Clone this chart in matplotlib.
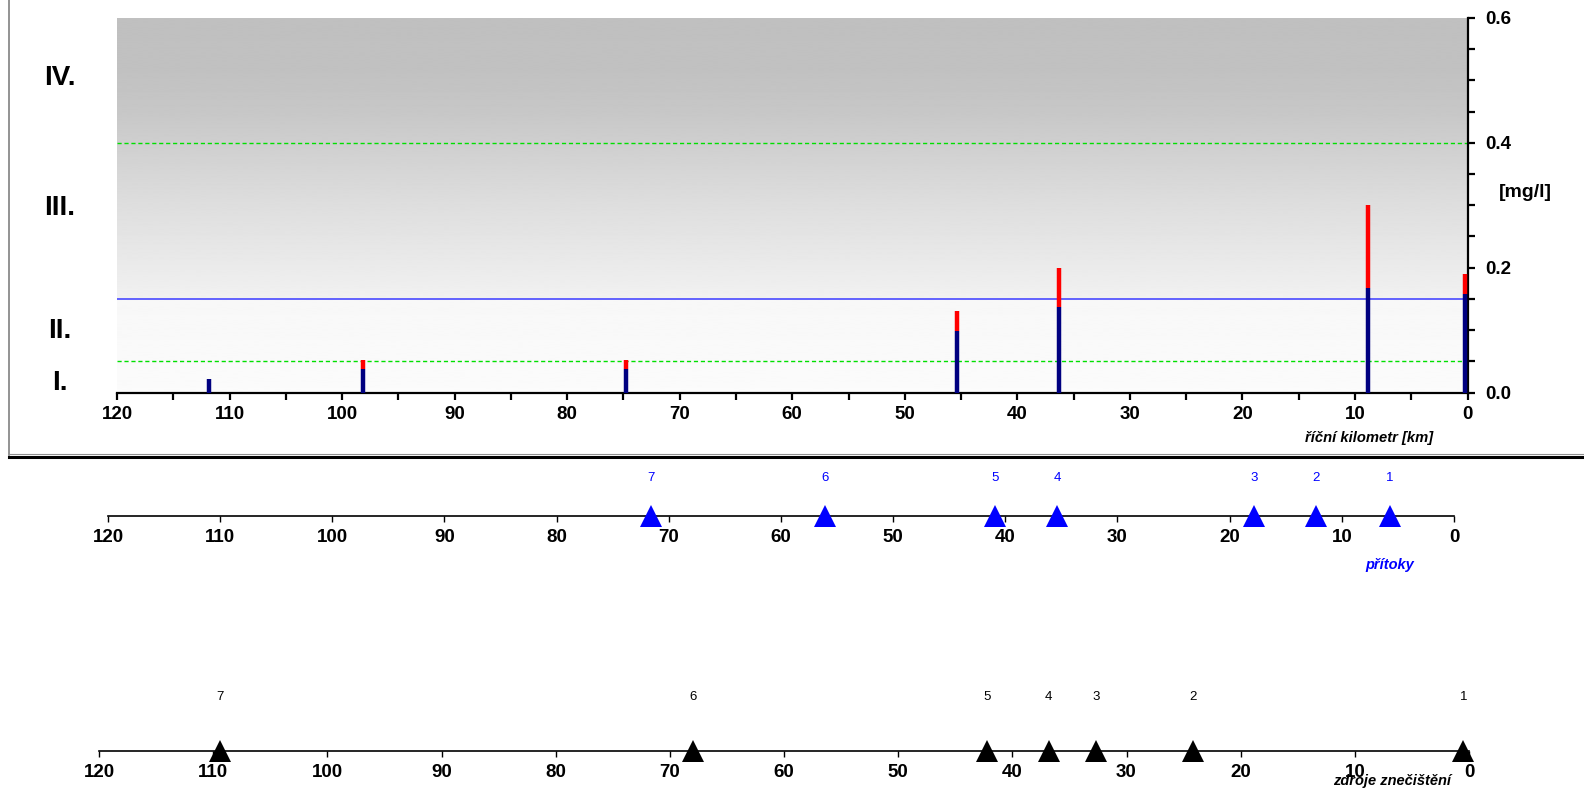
import numpy as np
import matplotlib
matplotlib.use('Agg')
import matplotlib.pyplot as plt
from matplotlib.lines import Line2D
from matplotlib import transforms

plt.rcParams['font.family'] = ['Liberation Sans', 'DejaVu Sans']
plt.rcParams['font.weight'] = 'bold'

# concentration along the river (river km, mg/l)
km = [111.8, 98.1, 74.8, 45.4, 36.3, 8.8, 0.2]
conc_low = [0.022, 0.038, 0.037, 0.098, 0.137, 0.168, 0.158]   # blue part
conc_high = [0.022, 0.052, 0.052, 0.130, 0.200, 0.300, 0.190]  # red top

limits_green = [0.05, 0.4]
limit_blue = 0.15
classes = ['I.', 'II.', 'III.', 'IV.']
class_y = [0.004, 0.087, 0.284, 0.493]

# tributaries (přítoky)
trib_id = [1, 2, 3, 4, 5, 6, 7]
trib_km = [5.7, 12.3, 17.8, 35.4, 40.9, 56.1, 71.6]

# pollution sources (zdroje znečištění)
src_id = [1, 2, 3, 4, 5, 6, 7]
src_km = [0.5, 24.2, 32.7, 36.8, 42.2, 68.0, 109.4]

W, H = 1584, 789
fig = plt.figure(figsize=(W / 100, H / 100), dpi=100)


def box(l, t, r, b):
    return [l / W, 1 - b / H, (r - l) / W, (b - t) / H]


# ---- top panel ----
ax = fig.add_axes(box(117, 18, 1467.5, 392.5))
yy = np.linspace(0, 0.6, 601)
shade = np.interp(yy, [0, 0.1499, 0.1501, 0.3, 0.45, 0.52, 0.6],
                  [0.985, 0.97, 0.945, 0.87, 0.78, 0.755, 0.753])
ax.imshow(shade[:, None], origin='lower', extent=(0, 120, 0, 0.6), aspect='auto',
          cmap='gray', vmin=0, vmax=1, zorder=0, interpolation='bilinear')

for v in limits_green:
    ax.axhline(v, color='#00e000', lw=1, ls=(0, (3, 2)), zorder=1)
ax.axhline(limit_blue, color='#4848ff', lw=1.2, zorder=1)

ax.vlines(km, 0, conc_low, color='#000080', lw=3.2, zorder=3)
ax.vlines(km, conc_low, conc_high, color='#ff0000', lw=3.2, zorder=3)

ax.set_xlim(120, 0)
ax.set_ylim(0, 0.6)
ax.spines[['left', 'top']].set_visible(False)
for s in ['bottom', 'right']:
    ax.spines[s].set_linewidth(1.6)
ax.yaxis.tick_right()
ax.set_xticks(np.arange(0, 121, 10))
ax.set_xticks(np.arange(0, 121, 5), minor=True)
ax.set_yticks([0, 0.2, 0.4, 0.6])
ax.set_yticks(np.arange(0, 0.61, 0.05), minor=True)
ax.yaxis.set_major_formatter(matplotlib.ticker.FormatStrFormatter('%.1f'))
ax.tick_params(axis='both', which='both', direction='out', length=5, width=1.6,
               labelsize=13.5)
ax.tick_params(axis='x', pad=5)
ax.tick_params(axis='y', pad=8)

trans = transforms.blended_transform_factory(ax.transAxes, ax.transData)
for s, y in zip(classes, class_y):
    ax.text(-0.0422, y, s, transform=trans, ha='center', va='baseline',
            fontsize=20, clip_on=False)
ax.text(1.0426, 0.32, '[mg/l]', transform=trans, ha='center', va='center',
        fontsize=14, clip_on=False)
fig.text(1433 / W, 1 - 438 / H, 'říční kilometr [km]', ha='right', va='center',
         style='italic', fontsize=10.6)

# frame around the top panel
fig.add_artist(Line2D([9 / W, 9 / W], [1, 1 - 455 / H], color='#808080', lw=1.2))
fig.add_artist(Line2D([9 / W, 1], [1 - 453.5 / H] * 2, color='#909090', lw=0.8))
fig.add_artist(Line2D([9 / W, 1], [1 - 456.5 / H] * 2, color='black', lw=2.2))


def marker_axis(rect, xs, ids, color, num_offset):
    a = fig.add_axes(rect)
    a.set_xlim(120, 0)
    a.set_ylim(0, 1)
    a.patch.set_visible(False)
    a.spines[['left', 'top', 'right']].set_visible(False)
    a.spines['bottom'].set_linewidth(1.2)
    a.set_yticks([])
    a.set_xticks(np.arange(0, 121, 10))
    a.tick_params(axis='x', direction='out', length=4, width=1, labelsize=13.5, pad=5.5)
    a.plot(xs, [0] * len(xs), ls='none', marker='^', ms=16, mew=0,
           color=color, clip_on=False, zorder=3)
    for k, n in zip(xs, ids):
        a.annotate(str(n), (k, 0), xytext=(0, num_offset), textcoords='offset points',
                   ha='center', va='center', color=color, fontsize=9.5,
                   fontweight='normal', annotation_clip=False)
    return a


marker_axis(box(108, 470, 1454, 516), trib_km, trib_id, '#0000ff', 38 * 0.72)
fig.text(1390 / W, 1 - 565 / H, 'přítoky', color='#0000ff', style='italic',
         fontsize=10.5, ha='center', va='center')

marker_axis(box(99, 700, 1469, 751), src_km, src_id, 'black', 54 * 0.72)
fig.text(1392 / W, 1 - 781 / H, 'zdroje znečištění', style='italic',
         fontsize=10.5, ha='center', va='center', zorder=5)

fig.savefig('out.png', dpi=100)
